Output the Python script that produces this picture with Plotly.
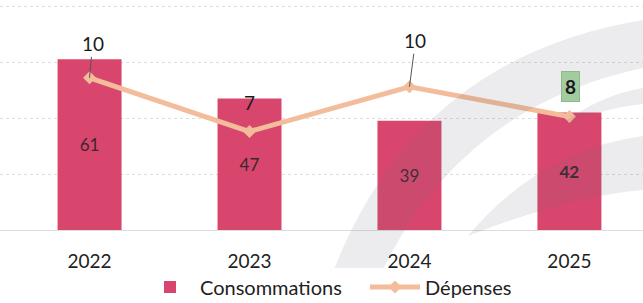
import plotly.graph_objects as go

years = ["2022", "2023", "2024", "2025"]
consommations = [61, 47, 39, 42]
depenses = [10.2, 6.6, 9.6, 7.6]

FONT = "Lato"
BAR_COLOR = "#D9466D"
LINE_COLOR = "#F3BC9A"

W, H = 643, 303
PT, PB = 5, 230  # plot area top / bottom in pixels

bar_text = [f"<b>{v}</b>" if i == 3 else str(v) for i, v in enumerate(consommations)]

fig = go.Figure()
fig.add_trace(go.Bar(
    x=years, y=consommations, name="Consommations",
    marker=dict(color=BAR_COLOR, line=dict(width=0)),
    width=0.4,
    text=bar_text, textposition="inside", insidetextanchor="middle",
    textfont=dict(family=FONT, size=17, color="#3a2630"),
    textangle=0,
))
fig.add_trace(go.Scatter(
    x=years, y=depenses, name="Dépenses", yaxis="y2",
    mode="lines+markers",
    line=dict(color=LINE_COLOR, width=5),
    marker=dict(symbol="diamond", size=10, color=LINE_COLOR),
))

# labels for Dépenses
offsets = [(3, -34), (0, -29), (6, -46), (1, -30)]
leaders = [True, False, True, False]
for i, v in enumerate(depenses):
    ax, ay = offsets[i]
    label = f"{v:.0f}"
    ann = dict(
        x=i, y=v, xref="x", yref="y2",
        text=label,
        font=dict(family=FONT, size=19, color="#1a1a1a"),
        showarrow=True, arrowhead=0, arrowwidth=1,
        arrowcolor="#555555" if leaders[i] else "rgba(255,255,255,0)",
        ax=ax, ay=ay, axref="pixel", ayref="pixel", standoff=0,
    )
    if i == 3:
        ann.update(text=f"<b>{label}</b>", bgcolor="#A3CBA0", bordercolor="#8FB98C",
                   borderwidth=1, borderpad=3)
    fig.add_annotation(**ann)


# faint background watermark swoosh (paper coordinates from pixel positions)
def p(x, y):
    return f"{x / W:.4f},{(PB - y) / (PB - PT):.4f}"


swoosh1 = (f"M {p(322, 303)} Q {p(400, 60)} {p(643, 20)} L {p(643, 68)} "
           f"Q {p(445, 110)} {p(368, 303)} Z")
swoosh2 = (f"M {p(468, 236)} Q {p(540, 150)} {p(643, 136)} L {p(643, 190)} "
           f"Q {p(570, 196)} {p(468, 236)} Z")
swoosh3 = (f"M {p(560, 125)} Q {p(600, 95)} {p(643, 88)} L {p(643, 104)} "
           f"Q {p(605, 108)} {p(560, 125)} Z")
for path in (swoosh1, swoosh2, swoosh3):
    fig.add_shape(type="path", path=path, xref="paper", yref="paper",
                  fillcolor="rgba(110,110,125,0.13)", line=dict(width=0), layer="above")

fig.update_layout(
    width=W, height=H,
    margin=dict(l=0, r=0, t=PT, b=H - PB, autoexpand=False),
    paper_bgcolor="white", plot_bgcolor="white",
    font=dict(family=FONT, color="#222222"),
    xaxis=dict(type="category", range=[-0.56, 3.46], showgrid=False, showline=False, ticks="",
               ticklabelstandoff=18, automargin=False,
               tickfont=dict(family=FONT, size=19, color="#222222")),
    yaxis=dict(range=[0, 80.4], tickvals=[0, 20, 40, 60, 80], showgrid=True, gridcolor="#dddddd",
               gridwidth=1, griddash="dot", showticklabels=False, zeroline=True,
               zerolinecolor="#dddddd", zerolinewidth=1, automargin=False),
    yaxis2=dict(range=[0, 15.08], overlaying="y", side="right", showgrid=False,
                showticklabels=False, zeroline=False, automargin=False),
    legend=dict(orientation="h", x=140 / W, xanchor="left", yref="container", y=16 / H,
                yanchor="middle", entrywidth=160, entrywidthmode="pixels",
                font=dict(family=FONT, size=20, color="#222222"), itemwidth=50,
                traceorder="normal"),
    bargap=0.6,
    showlegend=True,
)

fig.write_html(
    "out.html",
    config={"displayModeBar": False},
    post_script="document.body.style.margin='0';document.body.style.overflow='hidden';",
)
